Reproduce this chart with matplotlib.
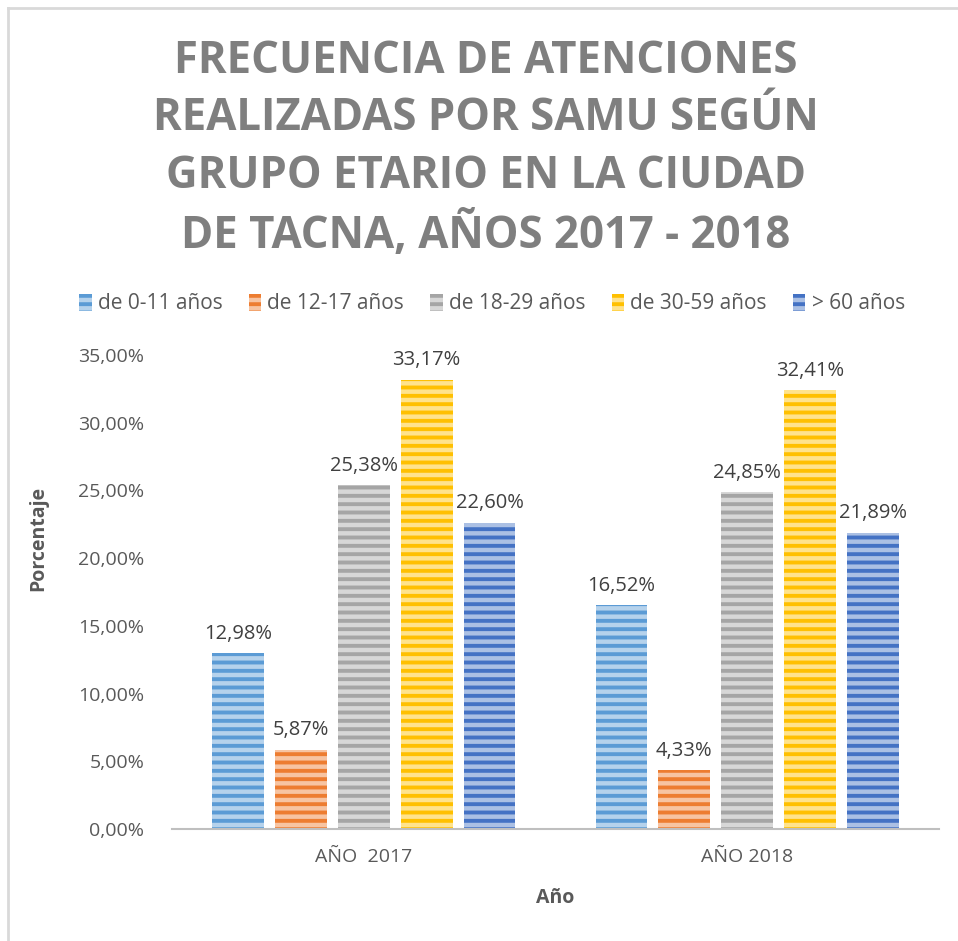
import matplotlib
matplotlib.use("Agg")
import matplotlib.pyplot as plt
import matplotlib.colors as mcolors
import numpy as np
from matplotlib.lines import Line2D

plt.rcParams['font.family'] = ['Open Sans', 'DejaVu Sans']
plt.rcParams['hatch.linewidth'] = 2.8

categories = ["AÑO  2017", "AÑO 2018"]
series = ["de 0-11 años", "de 12-17 años", "de 18-29 años", "de 30-59 años", "> 60 años"]
values = {
    "de 0-11 años": [12.98, 16.52],
    "de 12-17 años": [5.87, 4.33],
    "de 18-29 años": [25.38, 24.85],
    "de 30-59 años": [33.17, 32.41],
    "> 60 años": [22.60, 21.89],
}
colors = ["#5b9bd5", "#ed7d31", "#a5a5a5", "#ffc000", "#4472c4"]
yticks = [0, 5, 10, 15, 20, 25, 30, 35]

def lighten(c, f):
    r, g, b = mcolors.to_rgb(c)
    return (r + (1 - r) * f, g + (1 - g) * f, b + (1 - b) * f)

W, H = 958, 941
fig = plt.figure(figsize=(W / 100, H / 100), dpi=100)
ax = fig.add_axes([172 / W, 112 / H, (939 - 172) / W, (829 - 355) / H])

x = np.arange(len(categories))
pitch = 0.164
width = 0.135
bars_all = []
for i, (name, col) in enumerate(zip(series, colors)):
    pos = x + (i - 2) * pitch
    bars = ax.bar(pos, values[name], width, facecolor=lighten(col, 0.55),
                  edgecolor=col, hatch='--', linewidth=0, label=name)
    bars_all.append(bars)
    for p, v in zip(pos, values[name]):
        ax.text(p, v + 0.7, f"{v:.2f}%".replace('.', ','), ha='center', va='bottom',
                fontsize=14.5, color='#404040', clip_on=False)

ax.set_xlim(-0.5, 1.5)
ax.set_ylim(0, 35)
ax.set_yticks(yticks)
ax.set_yticklabels([f"{t:.2f}%".replace('.', ',') for t in yticks], fontsize=14, color='#595959')
ax.set_xticks(x)
ax.set_xticklabels(categories, fontsize=14, color='#595959')
ax.tick_params(axis='both', length=0)
ax.tick_params(axis='y', pad=20)
ax.tick_params(axis='x', pad=14)
for s in ['top', 'right', 'left']:
    ax.spines[s].set_visible(False)
ax.spines['bottom'].set_color('#bfbfbf')
ax.spines['bottom'].set_linewidth(1.5)

leg = fig.legend(handles=bars_all, labels=series, loc='center', ncol=5,
                 bbox_to_anchor=(492 / W, 1 - 304 / H), frameon=False,
                 fontsize=15, handlelength=0.6, handleheight=0.85,
                 handletextpad=0.3, columnspacing=1.25, labelcolor='#595959')

fig.text(486 / W, 1 - 149 / H,
         "FRECUENCIA DE ATENCIONES\nREALIZADAS POR SAMU SEGÚN\nGRUPO ETARIO EN LA CIUDAD\nDE TACNA, AÑOS 2017 - 2018",
         ha='center', va='center', fontsize=31.5, fontweight='bold', color='#7f7f7f',
         linespacing=1.37, multialignment='center')

fig.text(38 / W, 1 - 538 / H, "Porcentaje", rotation=90, ha='center', va='center',
         fontsize=14, fontweight='bold', color='#595959')
fig.text(555 / W, 1 - 898 / H, "Año", ha='center', va='center',
         fontsize=14, fontweight='bold', color='#595959')

# chart border (top and left visible)
fig.add_artist(Line2D([8 / W, 1], [1 - 7.5 / H, 1 - 7.5 / H], color='#d9d9d9', lw=2, transform=fig.transFigure))
fig.add_artist(Line2D([8 / W, 8 / W], [0, 1 - 7.5 / H], color='#d9d9d9', lw=2, transform=fig.transFigure))

fig.savefig("out.png", dpi=100)
